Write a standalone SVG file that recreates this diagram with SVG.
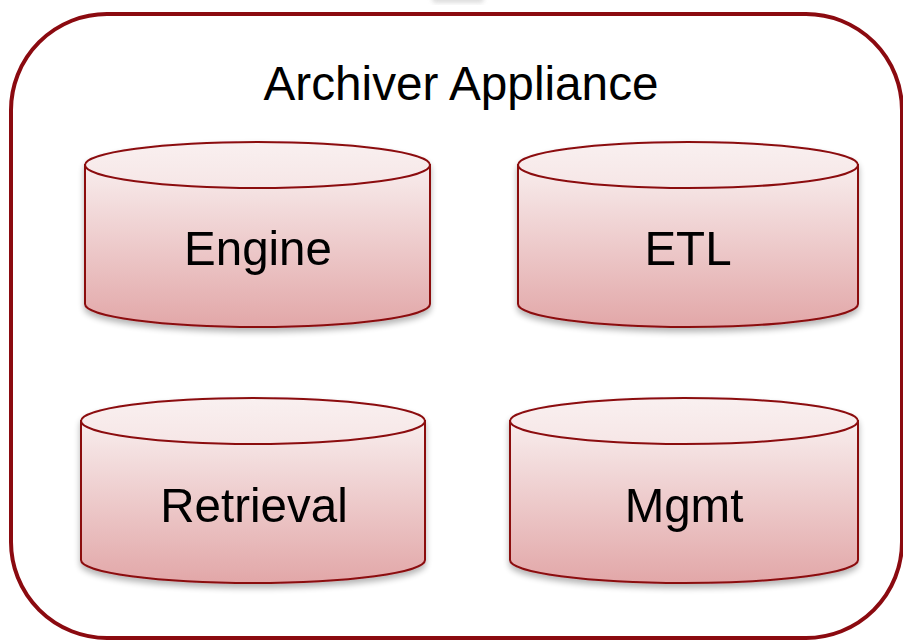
<svg xmlns="http://www.w3.org/2000/svg" width="903" height="641" viewBox="0 0 903 641">
<defs>
<linearGradient id="body" x1="0" y1="0" x2="0" y2="1">
<stop offset="0" stop-color="#f8eded"/>
<stop offset="1" stop-color="#e2a7a8"/>
</linearGradient>
<linearGradient id="topg" x1="0" y1="0" x2="0" y2="1">
<stop offset="0" stop-color="#f9f0f0"/>
<stop offset="1" stop-color="#f6e6e6"/>
</linearGradient>
<filter id="sh" x="-10%" y="-10%" width="120%" height="130%">
<feGaussianBlur in="SourceAlpha" stdDeviation="3"/>
<feOffset dx="0" dy="4"/>
<feComponentTransfer><feFuncA type="linear" slope="0.3"/></feComponentTransfer>
<feMerge><feMergeNode/><feMergeNode in="SourceGraphic"/></feMerge>
</filter>
<filter id="blur"><feGaussianBlur stdDeviation="2"/></filter>
</defs>
<style>
.cyl-body{fill:url(#body);stroke:#8b0a10;stroke-width:2}
.cyl-top{fill:url(#topg);stroke:#8b0a10;stroke-width:2}
.lbl{font-family:"Liberation Sans",Arial,sans-serif;font-size:47.5px;fill:#000;text-anchor:middle}
</style>
<rect x="432" y="-8" width="52" height="11" rx="4" fill="#c8c8c8" filter="url(#blur)" opacity="0.6"/>
<g id="appliance">
<rect x="11" y="14" width="891" height="624" rx="96" ry="96" fill="#fff" stroke="#8b0a10" stroke-width="4"/>
<text x="461" y="100" class="lbl" textLength="395" lengthAdjust="spacingAndGlyphs">Archiver Appliance</text>
</g>
<g id="engine" filter="url(#sh)">
<path class="cyl-body" d="M85,165 L85,304 A172.5,23 0 0 0 430,304 L430,165 Z"/>
<ellipse class="cyl-top" cx="257.5" cy="165" rx="172.5" ry="23"/>
<text x="258" y="265" class="lbl">Engine</text>
</g>
<g id="etl" filter="url(#sh)">
<path class="cyl-body" d="M518,165 L518,304 A170,23 0 0 0 858,304 L858,165 Z"/>
<ellipse class="cyl-top" cx="688" cy="165" rx="170" ry="23"/>
<text x="688" y="265" class="lbl">ETL</text>
</g>
<g id="retrieval" filter="url(#sh)">
<path class="cyl-body" d="M81,421 L81,560 A172,23 0 0 0 425,560 L425,421 Z"/>
<ellipse class="cyl-top" cx="253" cy="421" rx="172" ry="23"/>
<text x="254" y="522" class="lbl">Retrieval</text>
</g>
<g id="mgmt" filter="url(#sh)">
<path class="cyl-body" d="M510,421 L510,560 A174,23 0 0 0 858,560 L858,421 Z"/>
<ellipse class="cyl-top" cx="684" cy="421" rx="174" ry="23"/>
<text x="684" y="522" class="lbl">Mgmt</text>
</g>
<g id="connectors"/>
</svg>
